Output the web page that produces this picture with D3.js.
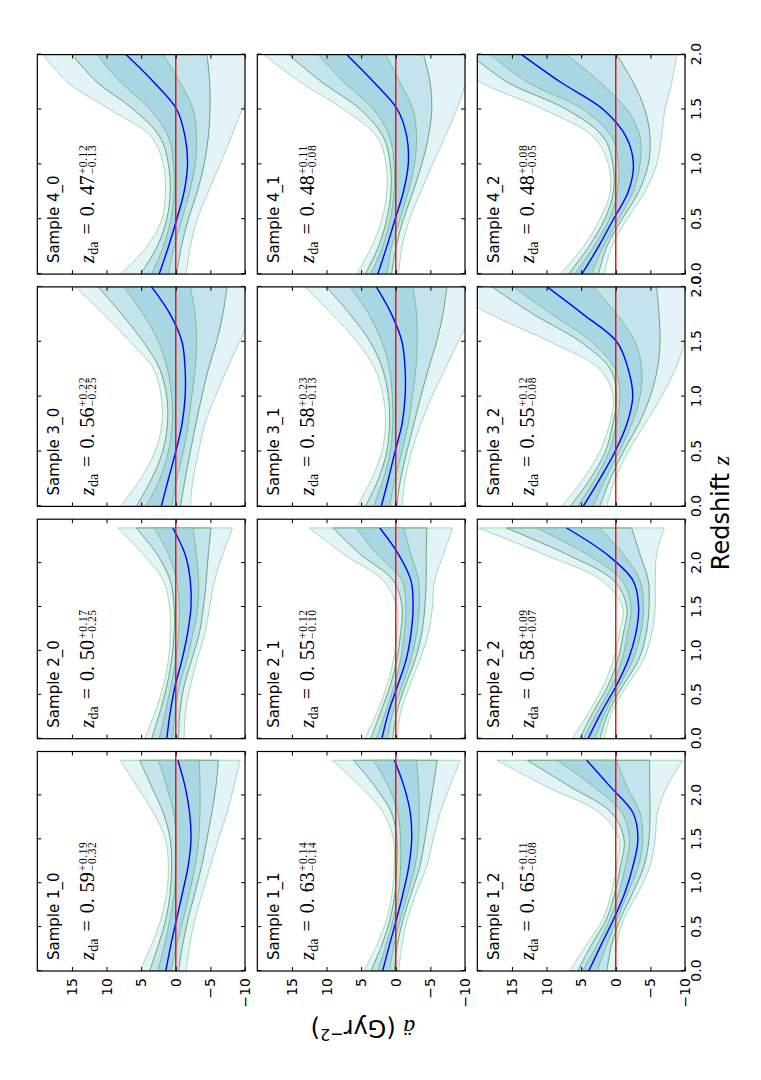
<!DOCTYPE html>
<html lang="en">
<head>
<meta charset="utf-8">
<script src="https://d3js.org/d3.v7.min.js"></script>
<style>
body { margin: 0; background: #fff; }
</style>
</head>
<body>
<svg id="fig" width="761" height="1080" font-family="DejaVu Sans, sans-serif"></svg>
<script>

// redshift grids the curves are sampled on
var zLong = [0, 0.3, 0.6, 0.9, 1.2, 1.5, 1.8, 2.1, 2.4];
var zShort = [0, 0.25, 0.5, 0.75, 1.0, 1.25, 1.5, 1.75, 2.0];

var zTicks = [0, 0.5, 1.0, 1.5, 2.0];
var aTicks = [-10, -5, 0, 5, 10, 15];

var sampleNames = ["Sample 1_0", "Sample 1_1", "Sample 1_2",
                   "Sample 2_0", "Sample 2_1", "Sample 2_2",
                   "Sample 3_0", "Sample 3_1", "Sample 3_2",
                   "Sample 4_0", "Sample 4_1", "Sample 4_2"];
var zdaLead  = ["0.", "0.", "0.", "0.", "0.", "0.", "0.", "0.", "0.", "0.", "0.", "0."];
var zdaTail  = ["59", "63", "65", "50", "55", "58", "56", "58", "55", "47", "48", "48"];
var zdaPlus  = ["+0.19", "+0.14", "+0.11", "+0.17", "+0.12", "+0.09",
                "+0.22", "+0.23", "+0.12", "+0.12", "+0.11", "+0.08"];
var zdaMinus = ["\u22120.32", "\u22120.14", "\u22120.08", "\u22120.25", "\u22120.10", "\u22120.07",
                "\u22120.25", "\u22120.13", "\u22120.08", "\u22120.13", "\u22120.08", "\u22120.05"];

// acceleration (Gyr^-2): 3/2/1 sigma upper, median, 1/2/3 sigma lower
var s1_0 = {
  u3: [5.2, 3.5, 2.1, 1.3, 1.06, 1.5, 3.2, 5.6, 8.0],
  u2: [3.8, 2.5, 1.4, 0.8, 0.6, 0.8, 1.8, 3.5, 5.2],
  u1: [2.6, 1.6, 0.8, 0.2, 0.0, -0.05, 0.3, 1.3, 2.5],
  md: [1.44, 0.7, -0.14, -1.0, -1.8, -2.2, -2.0, -1.35, -0.3],
  l1: [0.7, -0.14, -1.1, -2.0, -2.8, -3.3, -3.5, -3.5, -3.4],
  l2: [-0.4, -1.0, -1.8, -2.8, -3.75, -4.5, -5.2, -5.8, -6.15],
  l3: [-1.5, -2.0, -2.8, -3.9, -5.0, -6.15, -7.4, -8.4, -9.3]
};
var s1_1 = {
  u3: [4.6, 2.7, 1.3, 0.5, 0.24, 0.34, 1.8, 5.1, 9.2],
  u2: [3.6, 2.0, 0.8, 0.1, -0.14, -0.14, 0.6, 3.0, 6.1],
  u1: [2.6, 1.4, 0.34, -0.4, -0.7, -0.7, -0.3, 1.05, 3.2],
  md: [1.9, 0.9, -0.14, -1.1, -1.9, -2.3, -2.1, -1.2, 0.2],
  l1: [0.9, 0.24, -0.7, -1.8, -2.8, -3.3, -3.4, -3.3, -3.0],
  l2: [0.24, -0.24, -1.1, -2.3, -3.5, -4.2, -4.8, -5.4, -6.0],
  l3: [-0.43, -0.9, -1.7, -3.0, -4.5, -5.4, -6.4, -7.8, -9.3]
};
var s1_2 = {
  u3: [6.7, 4.2, 1.8, 0.6, -0.14, -0.5, 2.3, 10.0, 17.2],
  u2: [5.5, 3.5, 1.3, 0.1, -0.7, -1.2, 0.6, 6.6, 12.8],
  u1: [4.8, 2.7, 0.8, -0.5, -1.4, -2.0, -0.9, 3.2, 8.5],
  md: [3.9, 2.1, 0.24, -1.35, -2.5, -3.2, -2.5, 0.8, 4.2],
  l1: [2.7, 1.3, -0.24, -1.8, -3.3, -3.9, -3.5, -1.6, -0.14],
  l2: [1.3, 0.6, -0.7, -2.5, -4.1, -4.8, -4.95, -4.9, -4.9],
  l3: [0.1, -0.14, -1.2, -3.3, -4.95, -5.7, -6.0, -7.4, -9.7]
};
var s2_0 = {
  u3: [4.5, 3.0, 1.8, 1.06, 0.8, 0.9, 1.8, 4.7, 8.4],
  u2: [3.5, 2.3, 1.3, 0.6, 0.24, 0.24, 0.8, 2.7, 5.7],
  u1: [2.4, 1.5, 0.7, 0.0, -0.4, -0.5, -0.14, 1.06, 3.1],
  md: [1.3, 0.8, 0.1, -0.9, -1.7, -2.2, -2.1, -1.35, 0.43],
  l1: [0.43, 0.1, -0.5, -1.6, -2.5, -3.2, -3.3, -3.0, -2.5],
  l2: [-0.4, -0.6, -1.2, -2.3, -3.4, -4.0, -4.4, -4.7, -5.1],
  l3: [-1.2, -1.4, -2.1, -3.1, -4.2, -4.9, -5.6, -6.8, -8.2]
};
var s2_1 = {
  u3: [4.5, 2.7, 1.3, 0.34, -0.14, -0.14, 1.8, 7.5, 12.5],
  u2: [3.6, 2.2, 0.8, -0.14, -0.7, -0.9, 0.34, 5.1, 9.1],
  u1: [2.8, 1.5, 0.24, -0.7, -1.25, -1.45, -0.9, 2.7, 5.7],
  md: [2.0, 1.06, -0.24, -1.5, -2.2, -2.5, -2.2, -0.4, 2.3],
  l1: [1.2, 0.43, -0.9, -2.2, -3.0, -3.4, -3.3, -2.2, -1.1],
  l2: [0.43, -0.14, -1.35, -2.8, -3.75, -4.2, -4.4, -4.4, -4.5],
  l3: [-0.24, -0.7, -2.0, -3.5, -4.7, -5.3, -5.6, -6.9, -8.2]
};
var s2_2 = {
  u3: [6.3, 3.9, 1.8, 0.34, -0.5, -1.0, 2.0, 10.4, 19.8],
  u2: [5.2, 3.3, 1.15, -0.3, -1.1, -1.6, 0.3, 7.1, 15.8],
  u1: [4.7, 2.7, 0.6, -0.9, -1.7, -2.2, -0.9, 4.2, 11.4],
  md: [4.0, 2.1, -0.05, -1.8, -2.9, -3.3, -2.5, 1.3, 7.1],
  l1: [3.0, 1.5, -0.5, -2.5, -3.6, -4.0, -3.5, -1.1, 2.3],
  l2: [2.3, 1.06, -1.0, -3.3, -4.4, -4.8, -4.7, -3.5, -2.3],
  l3: [1.7, 0.6, -1.6, -4.0, -5.2, -5.7, -5.7, -5.9, -7.0]
};
var s3_0 = {
  u3: [8.0, 5.1, 3.0, 2.0, 2.1, 3.2, 6.6, 10.4, 14.5],
  u2: [5.7, 3.5, 1.9, 1.2, 1.3, 2.3, 4.7, 7.8, 11.2],
  u1: [4.3, 2.3, 1.06, 0.5, 0.6, 1.2, 2.5, 4.7, 7.5],
  md: [2.1, 1.06, 0.0, -0.9, -1.35, -1.35, -0.9, 0.8, 3.5],
  l1: [0.6, -0.14, -1.1, -1.8, -2.3, -2.8, -3.0, -2.8, -2.1],
  l2: [-0.7, -1.35, -2.1, -2.9, -3.75, -4.7, -5.9, -6.8, -7.4],
  l3: [-2.1, -2.5, -3.3, -4.2, -5.7, -7.4, -9.2, -11.0, -12.6]
};
var s3_1 = {
  u3: [5.6, 3.5, 2.0, 1.5, 1.8, 3.0, 5.6, 9.2, 13.1],
  u2: [4.4, 2.5, 1.3, 0.9, 1.06, 1.9, 3.7, 6.6, 10.0],
  u1: [3.2, 1.8, 0.8, 0.43, 0.5, 0.9, 2.0, 3.9, 6.6],
  md: [2.1, 1.06, 0.1, -0.9, -1.35, -1.35, -0.9, 0.6, 2.8],
  l1: [0.9, 0.1, -0.9, -1.8, -2.4, -2.9, -3.1, -3.0, -2.5],
  l2: [-0.14, -0.7, -1.6, -2.6, -3.6, -4.7, -5.9, -6.8, -7.4],
  l3: [-0.9, -1.35, -2.3, -3.6, -5.2, -7.1, -9.0, -11.0, -12.6]
};
var s3_2 = {
  u3: [7.8, 4.7, 2.3, 0.9, 0.34, 2.3, 9.5, 18.1, 25.4],
  u2: [6.6, 3.7, 1.5, 0.43, -0.14, 0.8, 5.1, 11.9, 17.9],
  u1: [5.5, 3.0, 0.96, -0.05, -0.6, 0.1, 3.5, 9.2, 14.8],
  md: [4.7, 2.3, 0.1, -1.6, -2.45, -1.8, -0.14, 4.7, 9.9],
  l1: [3.3, 1.5, -0.5, -2.3, -3.5, -3.75, -2.8, -0.14, 3.2],
  l2: [2.3, 0.8, -1.1, -3.3, -4.95, -6.0, -6.4, -6.25, -5.9],
  l3: [1.3, 0.1, -1.8, -4.2, -6.6, -8.6, -10.0, -11.4, -12.9]
};
var s4_0 = {
  u3: [8.0, 4.2, 2.0, 1.5, 1.8, 3.5, 9.5, 15.7, 19.1],
  u2: [5.1, 2.7, 1.3, 0.8, 1.06, 2.3, 6.1, 11.4, 15.0],
  u1: [3.5, 1.8, 0.7, 0.24, 0.34, 1.06, 3.7, 8.0, 11.4],
  md: [2.4, 1.06, -0.14, -1.2, -1.7, -1.35, -0.14, 3.2, 7.2],
  l1: [1.06, 0.24, -0.9, -2.0, -2.8, -3.0, -2.5, -0.6, 1.8],
  l2: [-0.14, -0.8, -1.8, -3.1, -4.1, -4.7, -4.95, -4.9, -4.5],
  l3: [-1.5, -2.1, -3.1, -4.7, -6.4, -8.0, -9.6, -11.4, -13.1]
};
var s4_1 = {
  u3: [5.6, 3.5, 2.0, 1.3, 1.4, 2.7, 7.5, 13.8, 19.1],
  u2: [4.4, 2.5, 1.3, 0.7, 0.8, 1.8, 5.1, 10.7, 15.5],
  u1: [3.6, 1.9, 0.8, 0.24, 0.24, 0.9, 3.2, 7.5, 11.2],
  md: [2.6, 1.3, 0.1, -1.1, -1.8, -1.6, -0.24, 3.2, 7.1],
  l1: [1.3, 0.6, -0.6, -1.8, -2.7, -3.0, -2.5, -0.6, 1.4],
  l2: [0.6, -0.05, -1.1, -2.5, -3.75, -4.7, -5.2, -4.95, -4.0],
  l3: [-0.4, -0.9, -2.0, -3.6, -5.3, -7.1, -8.8, -10.2, -11.7]
};
var s4_2 = {
  u3: [8.0, 4.7, 2.3, 0.8, 1.06, 3.2, 10.4, 19.6, 25.4],
  u2: [6.8, 3.9, 1.6, 0.34, 0.43, 1.8, 7.1, 15.7, 21.0],
  u1: [5.9, 3.2, 0.96, -0.24, -0.4, 0.6, 4.7, 12.8, 18.1],
  md: [4.9, 2.5, 0.34, -1.8, -2.55, -1.5, 1.8, 8.0, 13.6],
  l1: [3.5, 1.8, -0.4, -2.5, -3.5, -3.5, -1.6, 2.3, 7.1],
  l2: [2.5, 1.3, -0.9, -3.3, -4.7, -4.95, -4.2, -2.5, -0.14],
  l3: [1.7, 0.6, -1.6, -4.2, -5.9, -6.6, -7.1, -8.1, -8.8]
};

var panels = [s1_0, s1_1, s1_2, s2_0, s2_1, s2_2, s3_0, s3_1, s3_2, s4_0, s4_1, s4_2];

// layout in the unrotated (landscape) frame, 1080 x 761
var left0 = 109, colStep = 232.3, pw = 219.5;
var top0 = 37.3, rowStep = 220, ph = 207.7;
var mathFont = "Liberation Serif, serif";

var bandStyle = [
  {hi: "u3", lo: "l3", fill: "#e4f3f7", stroke: "#a4dbac"},
  {hi: "u2", lo: "l2", fill: "#c5e3ec", stroke: "#5eac70"},
  {hi: "u1", lo: "l1", fill: "#a8d6e3", stroke: "#7cbf90"}
];

var svg = d3.select("#fig");
svg.append("rect").attr("width", 761).attr("height", 1080).attr("fill", "#fff");
var defs = svg.append("defs");
// the figure is drawn landscape and turned a quarter turn
var fig = svg.append("g").attr("transform", "translate(0,1080) rotate(-90)");

function styleAxis(sel) {
  sel.select(".domain").remove();
  sel.attr("font-size", 14).attr("font-family", "DejaVu Sans, sans-serif");
  sel.selectAll("line").attr("stroke", "#000").attr("stroke-width", 1);
  sel.selectAll("text").attr("fill", "#000");
}

panels.forEach(function (d, i) {
  var si = Math.floor(i / 3), r = i % 3;
  var px = left0 + si * colStep, py = top0 + r * rowStep;
  var zs = si < 2 ? zLong : zShort;

  var x = d3.scaleLinear().domain([0, si < 2 ? 2.5 : 2.0]).range([0, pw]);
  var y = d3.scaleLinear().domain([-10, 20]).range([ph, 0]);

  var pg = fig.append("g").attr("transform", "translate(" + px + "," + py + ")");
  defs.append("clipPath").attr("id", "clip" + i)
    .append("rect").attr("width", pw).attr("height", ph);
  var plot = pg.append("g").attr("clip-path", "url(#clip" + i + ")");

  bandStyle.forEach(function (b) {
    var pts = zs.map(function (z, j) { return {z: z, hi: d[b.hi][j], lo: d[b.lo][j]}; });
    plot.append("path").datum(pts)
      .attr("d", d3.area()
        .x(function (p) { return x(p.z); })
        .y0(function (p) { return y(p.lo); })
        .y1(function (p) { return y(p.hi); })
        .curve(d3.curveCatmullRom))
      .attr("fill", b.fill)
      .attr("stroke", b.stroke)
      .attr("stroke-width", 1);
  });

  var med = zs.map(function (z, j) { return {z: z, v: d.md[j]}; });
  plot.append("path").datum(med)
    .attr("d", d3.line()
      .x(function (p) { return x(p.z); })
      .y(function (p) { return y(p.v); })
      .curve(d3.curveCatmullRom))
    .attr("fill", "none").attr("stroke", "#0000ff").attr("stroke-width", 1.4);

  plot.append("line")
    .attr("x1", 0).attr("x2", pw).attr("y1", y(0)).attr("y2", y(0))
    .attr("stroke", "#ff0000").attr("stroke-width", 1.4);

  // ticks on all four sides, pointing in
  pg.append("g").attr("transform", "translate(0," + ph + ")")
    .call(d3.axisBottom(x).tickValues(zTicks).tickSize(-4).tickPadding(6)
      .tickFormat(r == 2 ? d3.format(".1f") : ""))
    .call(styleAxis);
  pg.append("g")
    .call(d3.axisTop(x).tickValues(zTicks).tickSize(-4).tickFormat(""))
    .call(styleAxis);
  pg.append("g")
    .call(d3.axisLeft(y).tickValues(aTicks).tickSize(-4).tickPadding(7)
      .tickFormat(si == 0 ? d3.format("d") : ""))
    .call(styleAxis);
  pg.append("g").attr("transform", "translate(" + pw + ",0)")
    .call(d3.axisRight(y).tickValues(aTicks).tickSize(-4).tickFormat(""))
    .call(styleAxis);

  pg.append("rect").attr("width", pw).attr("height", ph)
    .attr("fill", "none").attr("stroke", "#000").attr("stroke-width", 1.2);

  pg.append("text").attr("x", 11).attr("y", 22).attr("font-size", 15)
    .text(sampleNames[i]);

  // z_da = 0. xx ^{+a}_{-b}, spaced like mathtext
  var t = pg.append("text").attr("x", 11).attr("y", 57)
    .attr("font-family", mathFont).attr("font-size", 20);
  t.append("tspan").attr("font-style", "italic").text("z");
  t.append("tspan").attr("font-size", 14).attr("dy", 4).attr("dx", 0.5).text("da");
  t.append("tspan").attr("dy", -4).attr("dx", 7).text("=");
  t.append("tspan").attr("dx", 7).text(zdaLead[i]);
  t.append("tspan").attr("dx", 6).text(zdaTail[i]);
  var bb = t.node().getBBox();
  var sx = bb.x + bb.width + 1;
  pg.append("text").attr("x", sx).attr("y", 49.5)
    .attr("font-family", mathFont).attr("font-size", 11.5).attr("letter-spacing", 0.6)
    .text(zdaPlus[i]);
  pg.append("text").attr("x", sx).attr("y", 59)
    .attr("font-family", mathFont).attr("font-size", 11.5).attr("letter-spacing", 0.6)
    .text(zdaMinus[i]);
});

// axis titles
var xl = fig.append("text").attr("x", 567).attr("y", 729)
  .attr("text-anchor", "middle").attr("font-size", 24);
xl.append("tspan").text("Redshift ");
xl.append("tspan").attr("font-family", mathFont).attr("font-style", "italic").text("z");

var yl = fig.append("text").attr("transform", "translate(60,363) rotate(-90)")
  .attr("text-anchor", "middle").attr("font-size", 24);
yl.append("tspan").attr("font-family", mathFont).attr("font-style", "italic").text("\u00e4");
yl.append("tspan").text(" (Gyr");
yl.append("tspan").attr("font-size", 16).attr("dy", -9).text("\u22122");
yl.append("tspan").attr("dy", 9).text(")");

</script>
</body>
</html>
